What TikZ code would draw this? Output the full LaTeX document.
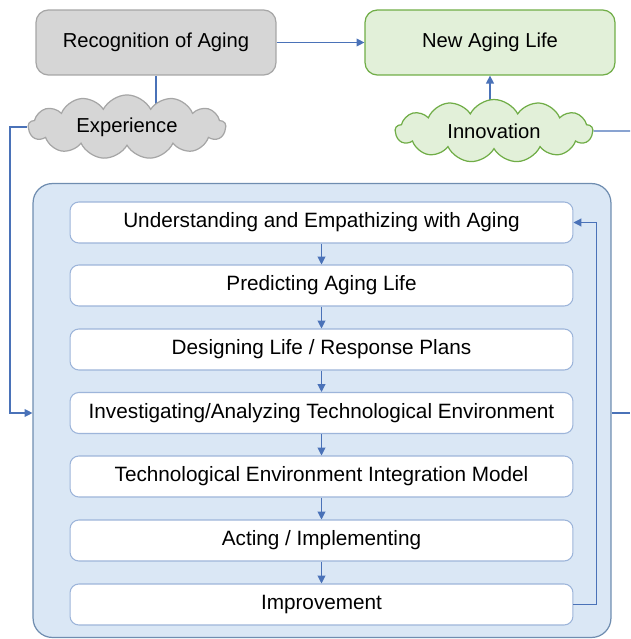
\documentclass[tikz,border=0pt]{standalone}
\usepackage{fontspec}
\setmainfont{Liberation Sans}
\usetikzlibrary{shapes.symbols,arrows.meta,backgrounds}

\definecolor{grayfill}{HTML}{D6D6D6}
\definecolor{graydraw}{HTML}{A6A6A6}
\definecolor{greenfill}{HTML}{E2F0D9}
\definecolor{greendraw}{HTML}{70AD47}
\definecolor{bluefill}{HTML}{DAE7F5}
\definecolor{bluedraw}{HTML}{6F8DB0}
\definecolor{stepdraw}{HTML}{9DB5DA}
\definecolor{linecol}{HTML}{4A72B8}

\tikzset{
  topbox/.style={draw, rounded corners=7pt, line width=0.7pt, minimum width=4.8cm,
    minimum height=1.3cm, font=\fontsize{11.5}{14}\selectfont},
  puff/.style={cloud, cloud puffs=13, cloud puff arc=125, aspect=3.2, draw, line width=0.7pt,
    minimum width=3.95cm, minimum height=1.26cm, inner sep=0pt, font=\fontsize{11.5}{14}\selectfont},
  stepbox/.style={draw=stepdraw, fill=white, rounded corners=5pt, line width=0.6pt,
    minimum width=10.06cm, minimum height=0.82cm, font=\fontsize{11.8}{14}\selectfont},
  conn/.style={draw=linecol, line width=0.6pt},
  >={Triangle[length=4.5pt,width=4.5pt]}
}

\begin{document}
\begin{tikzpicture}[x=0.02cm, y=-0.02cm]
  \useasboundingbox (0,0) rectangle (630,639);

  % top row
  \node[topbox, fill=grayfill, draw=graydraw] (rec) at (156,42.5) {Recognition of Aging};
  \node[topbox, fill=greenfill, draw=greendraw, minimum width=5cm] (new) at (490,42.5) {New Aging Life};

  % clouds
  \node[puff, fill=grayfill, draw=graydraw] (exp) at (127,127) {Experience};
  \node[puff, fill=greenfill, draw=greendraw] (inn) at (494,131) {Innovation};

  % big process frame
  \node[draw=bluedraw, fill=bluefill, rounded corners=11pt, line width=0.7pt,
    minimum width=11.56cm, minimum height=9.08cm] (big) at (322,410.5) {};

  % steps inside the frame
  \foreach \i/\y/\txt in {1/222.5/{Understanding and Empathizing with Aging},
                          2/285.5/{Predicting Aging Life},
                          3/349.5/{Designing Life / Response Plans},
                          4/413/{Investigating/Analyzing Technological Environment},
                          5/476.5/{Technological Environment Integration Model},
                          6/540.5/{Acting / Implementing},
                          7/604.5/{Improvement}}{
    \node[stepbox] (s\i) at (321.5,\y) {\txt};
  }
  \foreach \i [evaluate=\i as \j using int(\i+1)] in {1,...,6}{
    \draw[conn,->] (s\i) -- (s\j);
  }

  % connectors
  \draw[conn,->] (rec) -- (new);
  \begin{pgfonlayer}{background}
    \draw[conn] (rec.south) -- (rec.south |- exp.center);
    \draw[conn,->] (new.south |- inn.center) -- (new.south);
  \end{pgfonlayer}
  \coordinate (expturn) at (10,413);
  \draw[conn,->] (exp.west) -| (expturn) -- (big.west |- expturn);
  \coordinate (innout) at (630,131);
  \draw[conn] (inn.east) -- (innout);
  \coordinate (bigout) at (630,413);
  \draw[conn] (big.east |- bigout) -- (bigout);
  % feedback loop
  \draw[conn,->] (s7.east) -- ++(23,0) |- (s1.east);
\end{tikzpicture}
\end{document}
